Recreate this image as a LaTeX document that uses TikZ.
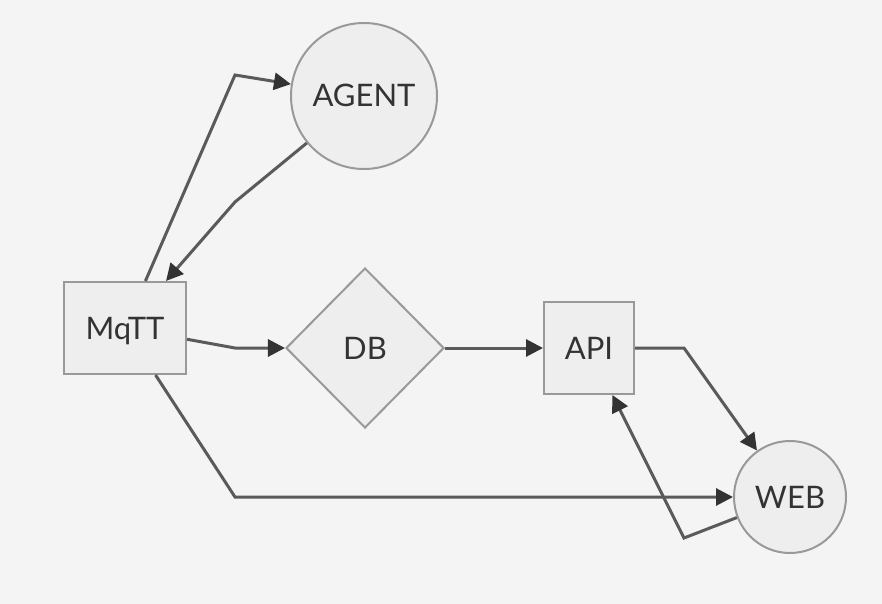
\documentclass[tikz,border=0pt]{standalone}
\usepackage{fontspec}
\setmainfont{Lato}
\usetikzlibrary{arrows.meta,shapes.geometric}
\definecolor{bgcol}{HTML}{F4F4F4}
\definecolor{nodefill}{HTML}{EEEEEE}
\definecolor{nodeline}{HTML}{999999}
\definecolor{linkcol}{HTML}{5A5A5A}
\definecolor{textcol}{HTML}{333333}
\begin{document}
\begin{tikzpicture}[x=1pt,y=-1pt,font=\fontsize{31}{36}\selectfont,text=textcol,
		shp/.style={draw=nodeline,fill=nodefill,line width=2pt,inner sep=0pt,
			text height=22pt,text depth=0pt},
		circ/.style={shp,circle,minimum size=146pt},
		webcirc/.style={shp,circle,minimum size=112pt},
		box/.style={shp,rectangle,minimum height=92pt},
		rhomb/.style={shp,diamond,minimum width=158pt,minimum height=160pt},
		link/.style={draw=linkcol,line width=3pt,line join=miter,
			-{Triangle[length=17pt,width=17pt,color=textcol]}}]
	\fill[bgcol] (0,0) rectangle (882,604);
	\useasboundingbox (0,0) rectangle (882,604);
	\node[circ] (agent) at (364,96) {AGENT};
	\node[box,minimum width=122pt] (mqtt) at (125,328) {MqTT};
	\node[rhomb] (db) at (365,348) {DB};
	\node[box,minimum width=90pt] (api) at (589,348) {API};
	\node[webcirc] (web) at (790,497) {WEB};
	\coordinate (b1) at (235,75);
	\coordinate (b2) at (235,202);
	\coordinate (b3) at (235,348);
	\coordinate (b4) at (494,348);
	\coordinate (b5) at (684,348);
	\coordinate (b6) at (235,497);
	\coordinate (b7) at (684,538);
	\draw[link] (mqtt) -- (b1) -- (agent);
	\draw[link] (agent) -- (b2) -- (mqtt);
	\draw[link] (mqtt) -- (b3) -- (db);
	\draw[link] (db) -- (b4) -- (api);
	\draw[link] (api) -- (b5) -- (web);
	\draw[link] (mqtt) -- (b6) -- (web);
	\draw[link] (web) -- (b7) -- (api);
\end{tikzpicture}
\end{document}
